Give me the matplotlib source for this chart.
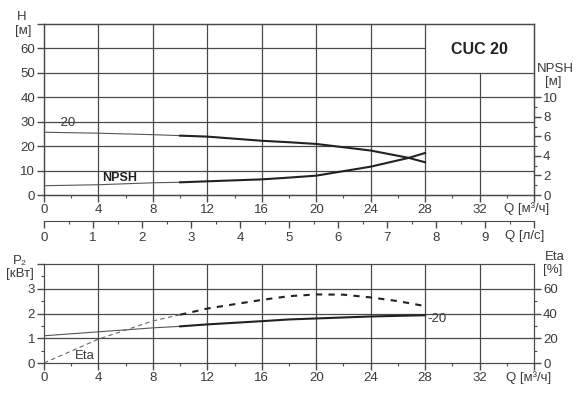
import numpy as np
import matplotlib.pyplot as plt
from matplotlib.ticker import MultipleLocator

plt.rcParams['font.family'] = ['Liberation Sans', 'DejaVu Sans']

# H curve (top chart)
q_h = [0, 4, 8, 10, 12, 16, 18, 20, 24, 26.8, 28]
h_vals = [25.7, 25.3, 24.7, 24.3, 23.9, 22.2, 21.6, 20.9, 18.2, 15.2, 13.4]

# NPSH curve, right axis [m]
q_npsh = [0, 4, 8, 10, 12, 16, 18, 20, 24, 26.8, 28]
npsh_vals = [0.95, 1.05, 1.25, 1.3, 1.4, 1.6, 1.78, 1.98, 2.9, 3.8, 4.3]

# P2 [kW] and Eta [%] (bottom chart)
q_p2 = [0, 4, 8, 10, 12, 16, 18, 20, 24, 28]
p2_vals = [1.10, 1.26, 1.42, 1.48, 1.56, 1.69, 1.76, 1.80, 1.88, 1.93]
q_eta = [0, 4, 8, 10, 12, 16, 18, 20, 22, 24, 26, 28]
eta_vals = [0, 19.3, 34, 39, 44, 51, 54, 55.4, 55.2, 53, 50, 46]

q_ticks = [0, 4, 8, 12, 16, 20, 24, 28, 32]
ls_ticks = [0, 1, 2, 3, 4, 5, 6, 7, 8, 9]
title = 'CUC 20'

TXT = '#3a3a3a'
GRID = '#4a4a4a'
FS = 9.5
W, H = 581, 416


def box(l, t, r, b):
    return [l / W, 1 - b / H, (r - l) / W, (b - t) / H]


def split(q, v, qs=10):
    q = np.array(q, float)
    v = np.array(v, float)
    return (q[q <= qs], v[q <= qs]), (q[q >= qs], v[q >= qs])


def style_x(ax):
    ax.set_xlim(0, 36)
    ax.set_xticks(q_ticks + [36])
    ax.set_xticklabels([str(t) for t in q_ticks] + [''])
    ax.xaxis.set_minor_locator(MultipleLocator(2))
    ax.tick_params(axis='x', which='major', direction='out', length=5, width=1,
                   color=GRID, labelcolor=TXT, labelsize=FS, pad=1.5)
    ax.tick_params(axis='x', which='minor', direction='out', length=2.5,
                   width=0.8, color=GRID)


fig = plt.figure(figsize=(5.81, 4.16), dpi=100)

# ---- top chart: H / NPSH
ax = fig.add_axes(box(44, 24, 534, 195))
style_x(ax)
ax.set_ylim(0, 70)
ax.set_yticks(range(0, 80, 10))
ax.set_yticklabels([str(t) for t in range(0, 70, 10)] + [''])
ax.tick_params(axis='y', direction='out', length=5, width=1, color=GRID,
               labelcolor=TXT, labelsize=FS, pad=1.5)
for s in ax.spines.values():
    s.set_color(GRID)
    s.set_linewidth(1)
for x in [4, 8, 12, 16, 20, 24, 28]:
    ax.plot([x, x], [0, 70], color=GRID, lw=0.9, zorder=1)
ax.plot([32, 32], [0, 50], color=GRID, lw=0.9, zorder=1)
for y in [10, 20, 30, 40, 50]:
    ax.plot([0, 36], [y, y], color=GRID, lw=0.9, zorder=1)
ax.plot([0, 28], [60, 60], color=GRID, lw=0.9, zorder=1)
ax.text(32, 59.5, title, ha='center', va='center', fontsize=11.5,
        fontweight='bold', color='#222222')

(ht, hv), (Ht, Hv) = split(q_h, h_vals)
ax.plot(ht, hv, color='#555555', lw=0.8, zorder=3)
ax.plot(Ht, Hv, color='#222222', lw=1.5, zorder=3)
ax.text(0.9, 27.2, '-20', fontsize=FS, color=TXT, va='bottom')

ax2 = ax.twinx()
ax2.set_ylim(0, 17.5)
ax2.set_yticks([0, 2, 4, 6, 8, 10])
ax2.set_yticks([1, 3, 5, 7, 9], minor=True)
ax2.tick_params(axis='y', which='major', direction='out', length=5, width=1,
                color=GRID, labelcolor=TXT, labelsize=FS, pad=1.5)
ax2.tick_params(axis='y', which='minor', direction='out', length=2.5,
                width=0.8, color=GRID)
for s in ax2.spines.values():
    s.set_color(GRID)
(nt, nv), (Nt, Nv) = split(q_npsh, npsh_vals)
ax2.plot(nt, nv, color='#555555', lw=0.8, zorder=3)
ax2.plot(Nt, Nv, color='#222222', lw=1.5, zorder=3)
ax.text(4.3, 7.0, 'NPSH', fontsize=9, fontweight='bold', color='#222222',
        va='center')

fig.text(22 / W, 1 - 17 / H, 'H', fontsize=FS, color=TXT, ha='center', va='center')
fig.text(23 / W, 1 - 31 / H, '[м]', fontsize=FS, color=TXT, ha='center', va='center')
fig.text(555 / W, 1 - 69 / H, 'NPSH', fontsize=FS, color=TXT, ha='center', va='center')
fig.text(553 / W, 1 - 82 / H, '[м]', fontsize=FS, color=TXT, ha='center', va='center')
fig.text(527 / W, 1 - 209 / H, 'Q [м³/ч]', fontsize=FS, color=TXT, ha='center', va='center')

# ---- l/s scale
axl = fig.add_axes(box(44, 220, 534, 221))
axl.set_xlim(0, 10)
axl.set_yticks([])
for k in ['top', 'left', 'right']:
    axl.spines[k].set_visible(False)
axl.spines['bottom'].set_color(GRID)
axl.set_xticks(ls_ticks + [10])
axl.set_xticklabels([str(t) for t in ls_ticks] + [''])
axl.xaxis.set_minor_locator(MultipleLocator(0.5))
axl.tick_params(axis='x', which='major', direction='out', length=5, width=1,
                color=GRID, labelcolor=TXT, labelsize=FS, pad=3)
axl.tick_params(axis='x', which='minor', direction='out', length=2.5,
                width=0.8, color=GRID)
fig.text(525 / W, 1 - 236 / H, 'Q [л/с]', fontsize=FS, color=TXT, ha='center', va='center')

# ---- bottom chart: P2 / Eta
bx = fig.add_axes(box(44, 264, 534, 363))
style_x(bx)
bx.set_ylim(0, 4)
bx.set_yticks([0, 1, 2, 3, 4])
bx.set_yticklabels(['0', '1', '2', '3', ''])
bx.set_yticks([0.5, 1.5, 2.5, 3.5], minor=True)
bx.tick_params(axis='y', which='major', direction='out', length=5, width=1,
               color=GRID, labelcolor=TXT, labelsize=FS, pad=1.5)
bx.tick_params(axis='y', which='minor', direction='out', length=2.5,
               width=0.8, color=GRID)
for s in bx.spines.values():
    s.set_color(GRID)
for x in [4, 8, 12, 16, 20, 24, 28, 32]:
    bx.plot([x, x], [0, 4], color=GRID, lw=0.9, zorder=1)
for y in [1, 2, 3]:
    bx.plot([0, 36], [y, y], color=GRID, lw=0.9, zorder=1)

(pt, pv), (Pt, Pv) = split(q_p2, p2_vals)
bx.plot(pt, pv, color='#555555', lw=0.8, zorder=3)
bx.plot(Pt, Pv, color='#222222', lw=1.5, zorder=3)
bx.text(28.2, 1.78, '-20', fontsize=FS, color=TXT, va='center')
bx.text(2.3, 0.3, 'Eta', fontsize=FS, color=TXT, va='center')

bx2 = bx.twinx()
bx2.set_ylim(0, 80)
bx2.set_yticks([0, 20, 40, 60])
bx2.set_yticks([10, 30, 50], minor=True)
bx2.tick_params(axis='y', which='major', direction='out', length=5, width=1,
                color=GRID, labelcolor=TXT, labelsize=FS, pad=1.5)
bx2.tick_params(axis='y', which='minor', direction='out', length=2.5,
                width=0.8, color=GRID)
for s in bx2.spines.values():
    s.set_color(GRID)
(et, ev), (Et, Ev) = split(q_eta, eta_vals)
bx2.plot(et, ev, color='#666666', lw=0.8, ls=(0, (4, 3)), zorder=3)
bx2.plot(Et, Ev, color='#222222', lw=1.5, ls=(0, (3, 3)), zorder=3)

fig.text(20 / W, 1 - 261 / H, 'P₂', fontsize=FS, color=TXT, ha='center', va='center')
fig.text(20 / W, 1 - 274 / H, '[кВт]', fontsize=FS, color=TXT, ha='center', va='center')
fig.text(555 / W, 1 - 257 / H, 'Eta', fontsize=FS, color=TXT, ha='center', va='center')
fig.text(553 / W, 1 - 270 / H, '[%]', fontsize=FS, color=TXT, ha='center', va='center')
fig.text(529 / W, 1 - 378 / H, 'Q [м³/ч]', fontsize=FS, color=TXT, ha='center', va='center')

fig.savefig('out.png', dpi=100)
